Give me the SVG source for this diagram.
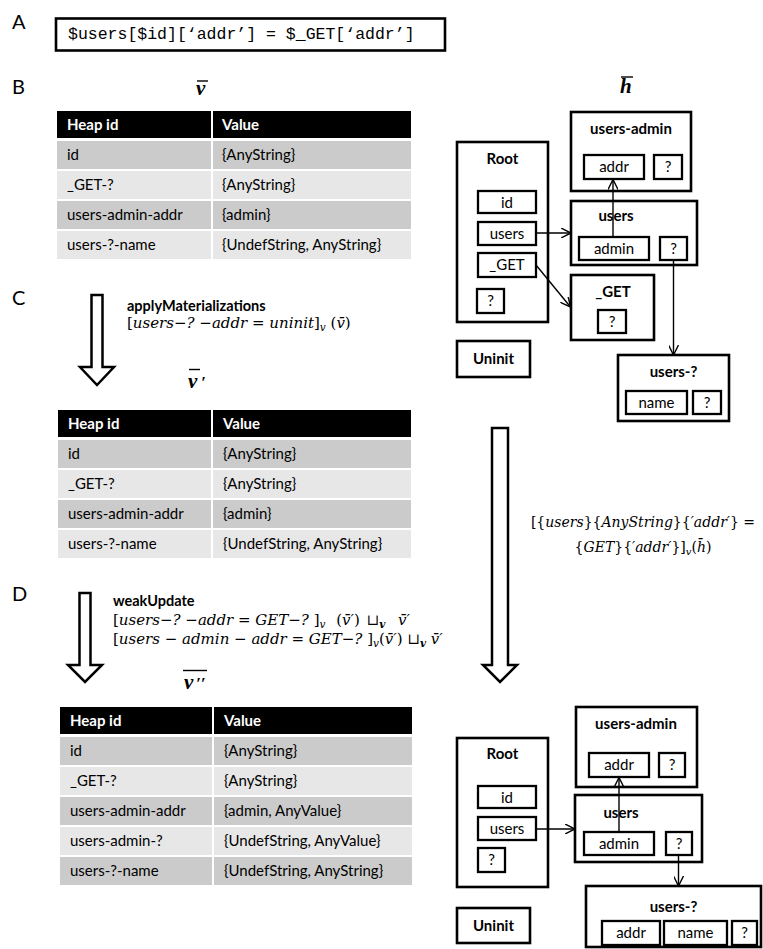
<svg xmlns="http://www.w3.org/2000/svg" width="763" height="949" viewBox="0 0 763 949">
<defs>
<style>
.lbl{font-family:Lato,"Liberation Sans",sans-serif;font-size:20px;fill:#000}
.code{font-family:"Liberation Mono","Courier New",monospace;font-size:16.5px;fill:#000}
.th{font-family:Lato,"Liberation Sans",sans-serif;font-size:15px;font-weight:bold;fill:#fff}
.td{font-family:Lato,"Liberation Sans",sans-serif;font-size:15px;fill:#000}
.hdr{fill:#000}
.dk{fill:#cbcbcb}
.lt{fill:#e7e7e7}
.box{fill:#fff;stroke:#000;stroke-width:2.6}
.fld{fill:#fff;stroke:#000;stroke-width:2.3}
.ttl{font-family:Lato,"Liberation Sans",sans-serif;font-size:15px;font-weight:bold;fill:#000;text-anchor:middle}
.ft{font-family:Lato,"Liberation Sans",sans-serif;font-size:15px;fill:#000;text-anchor:middle}
.bold{font-family:Lato,"Liberation Sans",sans-serif;font-size:14.5px;font-weight:bold;fill:#000}
.math{font-family:"DejaVu Serif","Liberation Serif",serif;font-size:14px;font-style:italic;fill:#000}
.md{font-size:15px}
.up{font-style:normal}
.bv{font-family:"Liberation Serif","DejaVu Serif",serif;font-size:21px;font-style:italic;font-weight:bold;fill:#000}
.pr{font-size:17px}
.ol{stroke:#000;stroke-width:1.4}
.big{fill:#fff;stroke:#000;stroke-width:2.5;stroke-linejoin:miter}
.con{fill:none;stroke:#000;stroke-width:1.4}
</style>
<marker id="ah" viewBox="0 0 10 10" refX="10" refY="5" markerWidth="10" markerHeight="10" markerUnits="userSpaceOnUse" orient="auto">
<path d="M0,0 L10,5 L0,10" fill="none" stroke="#000" stroke-width="1.4"/>
</marker>
</defs>

<!-- section labels -->
<text class="lbl" x="12" y="29">A</text>
<text class="lbl" x="12" y="94">B</text>
<text class="lbl" x="12" y="305">C</text>
<text class="lbl" x="12" y="601">D</text>

<!-- code -->
<g id="code">
<rect x="56" y="18.5" width="389" height="32" fill="#fff" stroke="#000" stroke-width="2.6"/>
<text class="code" x="68" y="39">$users[$id][‘addr’] = $_GET[‘addr’]</text>
</g>

<!-- labels v-bar, h-bar -->
<g id="vbar">
<text class="bv" x="196" y="95">v</text>
<line class="ol" x1="197" y1="81" x2="208" y2="81"/>
</g>
<g id="hbar">
<text class="bv" x="620" y="93">h</text>
<line class="ol" x1="621" y1="77" x2="633" y2="77"/>
</g>

<!-- Table 1 -->
<g id="table1">
<rect class="hdr" x="57" y="111" width="154" height="27"/>
<rect class="hdr" x="213" y="111" width="198" height="27"/>
<rect class="dk" x="57" y="141" width="154" height="28"/><rect class="dk" x="213" y="141" width="198" height="28"/>
<rect class="lt" x="57" y="171" width="154" height="28"/><rect class="lt" x="213" y="171" width="198" height="28"/>
<rect class="dk" x="57" y="201" width="154" height="28"/><rect class="dk" x="213" y="201" width="198" height="28"/>
<rect class="lt" x="57" y="231" width="154" height="28"/><rect class="lt" x="213" y="231" width="198" height="28"/>
<text class="th" x="67" y="130">Heap id</text><text class="th" x="222" y="130">Value</text>
<text class="td" x="67" y="160">id</text><text class="td" x="222" y="160">{AnyString}</text>
<text class="td" x="67" y="190">_GET-?</text><text class="td" x="222" y="190">{AnyString}</text>
<text class="td" x="67" y="220">users-admin-addr</text><text class="td" x="222" y="220">{admin}</text>
<text class="td" x="67" y="250">users-?-name</text><text class="td" x="222" y="250">{UndefString, AnyString}</text>
</g>

<!-- Step C -->
<g id="stepC">
<polygon class="big" points="91.5,295 102.5,295 102.5,367 114,367 97,385 80,367 91.5,367"/>
<text class="bold" x="127" y="311">applyMaterializations</text>
<text class="math md" x="127" y="328"><tspan class="up">[</tspan>users−? −addr <tspan class="up">=</tspan> uninit<tspan class="up">]</tspan><tspan font-size="10.5" dy="3">v</tspan><tspan class="up" dy="-3"> (</tspan>v̄<tspan class="up">)</tspan></text>
<text class="bv" x="188" y="388">v</text>
<text class="bv pr" x="201" y="388">′</text>
<line class="ol" x1="189" y1="369.5" x2="200" y2="369.5"/>
</g>

<!-- Table 2 -->
<g id="table2">
<rect class="hdr" x="58" y="410" width="153" height="27"/>
<rect class="hdr" x="213" y="410" width="198" height="27"/>
<rect class="dk" x="58" y="440" width="153" height="28"/><rect class="dk" x="213" y="440" width="198" height="28"/>
<rect class="lt" x="58" y="470" width="153" height="28"/><rect class="lt" x="213" y="470" width="198" height="28"/>
<rect class="dk" x="58" y="500" width="153" height="28"/><rect class="dk" x="213" y="500" width="198" height="28"/>
<rect class="lt" x="58" y="530" width="153" height="28"/><rect class="lt" x="213" y="530" width="198" height="28"/>
<text class="th" x="68" y="429">Heap id</text><text class="th" x="223" y="429">Value</text>
<text class="td" x="68" y="459">id</text><text class="td" x="223" y="459">{AnyString}</text>
<text class="td" x="68" y="489">_GET-?</text><text class="td" x="223" y="489">{AnyString}</text>
<text class="td" x="68" y="519">users-admin-addr</text><text class="td" x="223" y="519">{admin}</text>
<text class="td" x="68" y="549">users-?-name</text><text class="td" x="223" y="549">{UndefString, AnyString}</text>
</g>

<!-- Step D -->
<g id="stepD">
<polygon class="big" points="79.5,593 90.5,593 90.5,665 102,665 85,682 68,665 79.5,665"/>
<text class="bold" x="113" y="606">weakUpdate</text>
<text class="math md" x="113" y="625"><tspan class="up">[</tspan>users−? −addr <tspan class="up">=</tspan> GET−? <tspan class="up">]</tspan><tspan font-size="10.5" dy="3">v</tspan><tspan class="up" dy="-3" dx="6"> (</tspan>v̄′<tspan class="up">)</tspan><tspan class="up" dx="2"> ⊔</tspan><tspan font-size="10.5" font-weight="bold" dy="3">v</tspan><tspan dy="-3" dx="8"> v̄′</tspan></text>
<text class="math md" x="113" y="644"><tspan class="up">[</tspan>users − admin − addr <tspan class="up">=</tspan> GET−? <tspan class="up">]</tspan><tspan font-size="10.5" dy="3">v</tspan><tspan class="up" dy="-3">(</tspan>v̄′<tspan class="up">) ⊔</tspan><tspan font-size="10.5" font-weight="bold" dy="3">v</tspan><tspan dy="-3"> v̄′</tspan></text>
<text class="bv" x="184" y="689">v</text>
<text class="bv pr" x="196" y="689">′′</text>
<line class="ol" x1="183" y1="670.5" x2="207" y2="670.5"/>
</g>

<!-- Table 3 -->
<g id="table3">
<rect class="hdr" x="60" y="707" width="152" height="27"/>
<rect class="hdr" x="214" y="707" width="198" height="27"/>
<rect class="dk" x="60" y="737" width="152" height="28"/><rect class="dk" x="214" y="737" width="198" height="28"/>
<rect class="lt" x="60" y="767" width="152" height="28"/><rect class="lt" x="214" y="767" width="198" height="28"/>
<rect class="dk" x="60" y="797" width="152" height="28"/><rect class="dk" x="214" y="797" width="198" height="28"/>
<rect class="lt" x="60" y="827" width="152" height="28"/><rect class="lt" x="214" y="827" width="198" height="28"/>
<rect class="dk" x="60" y="857" width="152" height="28"/><rect class="dk" x="214" y="857" width="198" height="28"/>
<text class="th" x="70" y="726">Heap id</text><text class="th" x="224" y="726">Value</text>
<text class="td" x="70" y="756">id</text><text class="td" x="224" y="756">{AnyString}</text>
<text class="td" x="70" y="786">_GET-?</text><text class="td" x="224" y="786">{AnyString}</text>
<text class="td" x="70" y="816">users-admin-addr</text><text class="td" x="224" y="816">{admin, AnyValue}</text>
<text class="td" x="70" y="846">users-admin-?</text><text class="td" x="224" y="846">{UndefString, AnyValue}</text>
<text class="td" x="70" y="876">users-?-name</text><text class="td" x="224" y="876">{UndefString, AnyString}</text>
</g>

<!-- big right arrow and formula -->
<g id="heapStep">
<polygon class="big" points="492,428 508,428 508,665 517,665 500,682 483,665 492,665"/>
<text class="math" x="643" y="527" text-anchor="middle"><tspan class="up">[{</tspan>users<tspan class="up">}{</tspan>AnyString<tspan class="up">}{</tspan>′addr′<tspan class="up">} =</tspan></text>
<text class="math" x="643" y="552" text-anchor="middle"><tspan class="up">{</tspan>GET<tspan class="up">}{</tspan>′addr′<tspan class="up">}]</tspan><tspan font-size="10" dy="3">v</tspan><tspan class="up" dy="-3">(</tspan>h̄<tspan class="up">)</tspan></text>
</g>

<!-- Heap graph 1 -->
<g id="h1-users-admin">
<rect class="box" x="571" y="112" width="120" height="79"/>
<text class="ttl" x="631" y="134">users-admin</text>
<rect class="fld" x="584" y="155" width="60" height="24"/><text class="ft" x="614" y="172">addr</text>
<rect class="fld" x="654" y="155" width="28" height="24"/><text class="ft" x="668" y="172">?</text>
</g>
<g id="h1-root">
<rect class="box" x="457" y="142" width="91" height="180"/>
<text class="ttl" x="502.5" y="164">Root</text>
<rect class="fld" x="478" y="191" width="58" height="22"/><text class="ft" x="507" y="208">id</text>
<rect class="fld" x="478" y="222" width="58" height="23"/><text class="ft" x="507" y="239">users</text>
<rect class="fld" x="478" y="253" width="58" height="24"/><text class="ft" x="507" y="270">_GET</text>
<rect class="fld" x="477" y="289" width="27" height="24"/><text class="ft" x="490.5" y="306">?</text>
</g>
<g id="h1-uninit">
<rect class="box" x="457" y="341" width="73" height="36"/>
<text class="ttl" x="493.5" y="364">Uninit</text>
</g>
<g id="h1-users">
<rect class="box" x="571" y="201" width="126" height="64"/>
<text class="ttl" x="616" y="221" text-anchor="start">users</text>
<rect class="fld" x="579" y="237" width="70" height="23"/><text class="ft" x="614" y="254">admin</text>
<rect class="fld" x="660" y="237" width="27" height="23"/><text class="ft" x="673.5" y="254">?</text>
</g>
<g id="h1-get">
<rect class="box" x="571" y="275" width="83" height="65"/>
<text class="ttl" x="613" y="297">_GET</text>
<rect class="fld" x="598" y="310" width="28" height="23"/><text class="ft" x="612" y="327">?</text>
</g>
<g id="h1-users-q">
<rect class="box" x="618" y="355" width="111" height="66"/>
<text class="ttl" x="673.5" y="377">users-?</text>
<rect class="fld" x="626" y="391" width="61" height="23"/><text class="ft" x="656.5" y="408">name</text>
<rect class="fld" x="693" y="391" width="28" height="23"/><text class="ft" x="707" y="408">?</text>
</g>

<!-- Heap graph 2 -->
<g id="h2-users-admin">
<rect class="box" x="576" y="707" width="121" height="80"/>
<text class="ttl" x="636" y="729">users-admin</text>
<rect class="fld" x="589" y="753" width="60" height="24"/><text class="ft" x="619" y="770">addr</text>
<rect class="fld" x="659" y="753" width="26" height="24"/><text class="ft" x="672" y="770">?</text>
</g>
<g id="h2-root">
<rect class="box" x="457" y="738" width="91" height="149"/>
<text class="ttl" x="502.5" y="759">Root</text>
<rect class="fld" x="478" y="786" width="58" height="22"/><text class="ft" x="507" y="803">id</text>
<rect class="fld" x="478" y="817" width="58" height="23"/><text class="ft" x="507" y="834">users</text>
<rect class="fld" x="478" y="848" width="27" height="24"/><text class="ft" x="491.5" y="865">?</text>
</g>
<g id="h2-uninit">
<rect class="box" x="457" y="908" width="73" height="35"/>
<text class="ttl" x="493.5" y="931">Uninit</text>
</g>
<g id="h2-users">
<rect class="box" x="575" y="795" width="127" height="67"/>
<text class="ttl" x="621" y="818" text-anchor="start">users</text>
<rect class="fld" x="584" y="832" width="70" height="23"/><text class="ft" x="619" y="849">admin</text>
<rect class="fld" x="666" y="832" width="26" height="23"/><text class="ft" x="679" y="849">?</text>
</g>
<g id="h2-users-q">
<rect class="box" x="586" y="886" width="175" height="61"/>
<text class="ttl" x="673.5" y="912">users-?</text>
<rect class="fld" x="602" y="921" width="58" height="24"/><text class="ft" x="631" y="938">addr</text>
<rect class="fld" x="664" y="921" width="63" height="24"/><text class="ft" x="695.5" y="938">name</text>
<rect class="fld" x="732" y="921" width="25" height="24"/><text class="ft" x="744.5" y="938">?</text>
</g>

<!-- connectors -->
<g id="connectors">
<line class="con" x1="536" y1="233" x2="571" y2="233" marker-end="url(#ah)"/>
<line class="con" x1="536" y1="265" x2="570.5" y2="307" marker-end="url(#ah)"/>
<line class="con" x1="613" y1="237" x2="613" y2="179.5" marker-end="url(#ah)"/>
<line class="con" x1="673.5" y1="260" x2="673.5" y2="355" marker-end="url(#ah)"/>
<line class="con" x1="536" y1="829" x2="575" y2="829" marker-end="url(#ah)"/>
<line class="con" x1="619" y1="832" x2="619" y2="777.5" marker-end="url(#ah)"/>
<line class="con" x1="678.5" y1="855" x2="678.5" y2="886" marker-end="url(#ah)"/>
</g>
</svg>
